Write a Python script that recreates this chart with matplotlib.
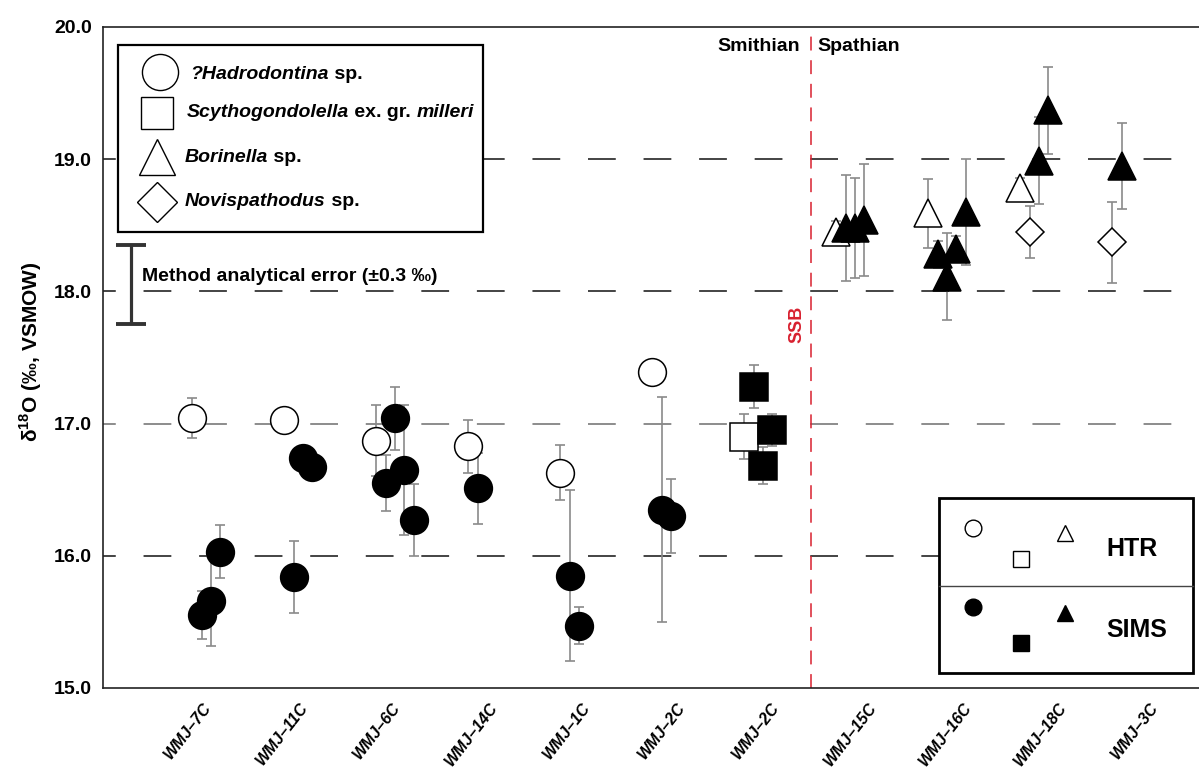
import matplotlib
matplotlib.use('Agg')
import matplotlib.pyplot as plt
from matplotlib import font_manager
from matplotlib.patches import Rectangle

names = {f.name for f in font_manager.fontManager.ttflist}
FONT = 'Liberation Sans' if 'Liberation Sans' in names else 'DejaVu Sans'
plt.rcParams['font.family'] = [FONT, 'DejaVu Sans']
plt.rcParams['font.weight'] = 'bold'
plt.rcParams['mathtext.fontset'] = 'custom'
plt.rcParams['mathtext.rm'] = FONT + ':bold'
plt.rcParams['mathtext.bf'] = FONT + ':bold'
plt.rcParams['lines.scale_dashes'] = False

# samples along the section (x categories)
samples = ['WMJ–7C', 'WMJ–11C', 'WMJ–6C', 'WMJ–14C', 'WMJ–1C', 'WMJ–2C',
           'WMJ–2C', 'WMJ–15C', 'WMJ–16C', 'WMJ–18C', 'WMJ–3C']

# one entry per measurement, in left-to-right order inside each sample
pt_sample = [0, 0, 0, 0,
             1, 1, 1, 1,
             2, 2, 2, 2, 2,
             3, 3,
             4, 4, 4,
             5, 5, 5,
             6, 6, 6, 6,
             7, 7, 7, 7,
             8, 8, 8, 8, 8,
             9, 9, 9, 9,
             10, 10]
pt_taxon = ['H'] * 21 + ['S'] * 4 + ['B'] * 10 + ['N', 'B', 'B', 'N', 'B']
pt_method = ['HTR', 'SIMS', 'SIMS', 'SIMS',
             'HTR', 'SIMS', 'SIMS', 'SIMS',
             'HTR', 'SIMS', 'SIMS', 'SIMS', 'SIMS',
             'HTR', 'SIMS',
             'HTR', 'SIMS', 'SIMS',
             'HTR', 'SIMS', 'SIMS',
             'HTR', 'SIMS', 'SIMS', 'SIMS',
             'HTR', 'SIMS', 'SIMS', 'SIMS',
             'HTR', 'SIMS', 'SIMS', 'SIMS', 'SIMS',
             'HTR', 'HTR', 'SIMS', 'SIMS',
             'HTR', 'SIMS']
pt_d18o = [17.04, 15.55, 15.66, 16.03,
           17.03, 15.84, 16.74, 16.67,
           16.87, 16.55, 17.04, 16.65, 16.27,
           16.83, 16.51,
           16.63, 15.85, 15.47,
           17.39, 16.35, 16.30,
           16.90, 17.28, 16.68, 16.95,
           18.45, 18.48, 18.48, 18.54,
           18.59, 18.28, 18.11, 18.32, 18.60,
           18.78, 18.45, 18.99, 19.37,
           18.37, 18.95]
pt_err = [0.15, 0.18, 0.34, 0.20,
          0.08, 0.27, 0.08, 0.08,
          0.27, 0.21, 0.24, 0.49, 0.27,
          0.20, 0.27,
          0.21, 0.645, 0.14,
          0.08, 0.85, 0.28,
          0.17, 0.165, 0.14, 0.12,
          0.08, 0.40, 0.375, 0.42,
          0.26, 0.10, 0.33, 0.10, 0.40,
          0.08, 0.195, 0.33, 0.33,
          0.305, 0.325]

method_err = 0.3
ssb_pos = 7.70

MARK = {'H': 'o', 'S': 's', 'B': '^', 'N': 'D'}
SIZE = {'H': 20, 'S': 20, 'B': 20, 'N': 14.5}

fig = plt.figure(figsize=(11.99, 7.71), dpi=100)
ax = fig.add_axes([103 / 1199, 83 / 771, 1096 / 1199, 661 / 771])
ax.set_xlim(0, 1096 / 92)
ax.set_ylim(15, 20)

# dashed reference lines
for yv in [16, 17, 18, 19]:
    col = '#6e6e6e' if yv == 17 else '#111111'
    ax.axhline(yv, color=col, lw=1.1, ls=(10.8, (20, 20)), zorder=1)

ax.axvline(ssb_pos, color='#d8202f', lw=1.1, ls=(0, (10, 7)), zorder=1)

rank = {}
for s, t, m, v, e in zip(pt_sample, pt_taxon, pt_method, pt_d18o, pt_err):
    k = rank.get(s, 0)
    rank[s] = k + 1
    x = s + 1 - 0.03 + 0.102 * k
    ax.errorbar(x, v, yerr=e, fmt='none', ecolor='#8a8a8a', elinewidth=1.2,
                capsize=3.6, capthick=1.2, zorder=3)
    ax.plot(x, v, ls='none', marker=MARK[t], ms=SIZE[t],
            mfc='white' if m == 'HTR' else 'black', mec='black', mew=1.1,
            zorder=4)

# axes styling
for side in ['left', 'bottom', 'top']:
    ax.spines[side].set_linewidth(1.2)
    ax.spines[side].set_color('#222222')
ax.spines['right'].set_visible(False)

ax.set_yticks([15, 16, 17, 18, 19, 20])
ax.set_yticklabels(['%.1f' % t for t in [15, 16, 17, 18, 19, 20]],
                   fontsize=14, fontweight='bold')
ax.tick_params(axis='y', length=0, pad=8)

ax.set_xticks([0.92 + 1.03 * i for i in range(len(samples))])
ax.set_xticklabels(samples, rotation=52, ha='center', va='top', fontsize=11.5,
                   fontweight='bold', fontstyle='italic')
ax.tick_params(axis='x', length=0, pad=9)

fig.text(31 / 1199, 1 - 352 / 771, r'δ$^{\mathbf{18}}$O (‰, VSMOW)',
         rotation=90, ha='center', va='center', fontsize=15, fontweight='bold')

# stage labels
ax.text(7.576, 19.85, 'Smithian', ha='right', va='center', fontsize=14)
ax.text(7.77, 19.85, 'Spathian', ha='left', va='center', fontsize=14)
ax.text(7.543, 17.75, 'SSB', rotation=90, ha='center', va='center',
        fontsize=13, color='#d8202f')

# method analytical error bar
ax.errorbar(0.304, 18.05, yerr=method_err, fmt='none', ecolor='#333333',
            elinewidth=2.3, capsize=11, capthick=2.8, zorder=5)
ax.text(0.424, 18.11, 'Method analytical error (±0.3 ‰)', va='center',
        fontsize=14, zorder=5)

# taxon legend (top left)
tr = ax.transAxes
ax.add_patch(Rectangle((0.0137, 0.6899), 0.333, 0.2829, transform=tr,
                       fc='white', ec='black', lw=1.6, zorder=6))


def mixed_text(x, y, parts):
    prev = None
    for txt, ital in parts:
        st = 'italic' if ital else 'normal'
        if prev is None:
            prev = ax.text(x, y, txt, transform=tr, va='center', ha='left',
                           fontsize=14, fontstyle=st, zorder=7)
        else:
            prev = ax.annotate(txt, xy=(1, 0.5), xycoords=prev, va='center',
                               ha='left', fontsize=14, fontstyle=st, zorder=7)


leg_rows = [
    ('o', 26, 0.052, 0.9319, 0.0794, 0.9274, [('?Hadrodontina', True), (' sp.', False)]),
    ('s', 23, 0.0493, 0.8699, 0.0766, 0.8699,
     [('Scythogondolella', True), (' ex. gr. ', False), ('milleri', True)]),
    ('^', 26, 0.0493, 0.8033, 0.0748, 0.8033, [('Borinella', True), (' sp.', False)]),
    ('D', 20.5, 0.0493, 0.7352, 0.0748, 0.7367, [('Novispathodus', True), (' sp.', False)]),
]
for mk, ms, mx, my, tx, ty, parts in leg_rows:
    ax.plot(mx, my, marker=mk, ms=ms, mfc='white', mec='black', mew=1.0,
            transform=tr, clip_on=False, zorder=7)
    mixed_text(tx, ty, parts)

# method legend (bottom right)
ax.add_patch(Rectangle((0.7628, 0.0227), 0.2317, 0.2647, transform=tr,
                       fc='white', ec='black', lw=2.0, zorder=6))
ax.plot([0.7628, 0.9945], [0.1543, 0.1543], transform=tr, color='#444444',
        lw=1.0, zorder=7)
for mk, mx, dy in [('o', 0.794, 0.0), ('s', 0.8376, -0.0469), ('^', 0.8777, -0.0075)]:
    ax.plot(mx, 0.242 + dy, marker=mk, ms=12, mfc='white', mec='black',
            mew=1.0, transform=tr, zorder=7)
    ax.plot(mx, 0.1225 + dy * 1.15, marker=mk, ms=12, mfc='black', mec='black',
            mew=1.0, transform=tr, zorder=7)
ax.text(0.9389, 0.2103, 'HTR', transform=tr, ha='center', va='center',
        fontsize=18, zorder=7)
ax.text(0.9434, 0.0877, 'SIMS', transform=tr, ha='center', va='center',
        fontsize=18, zorder=7)

fig.savefig('out.png', dpi=100)
